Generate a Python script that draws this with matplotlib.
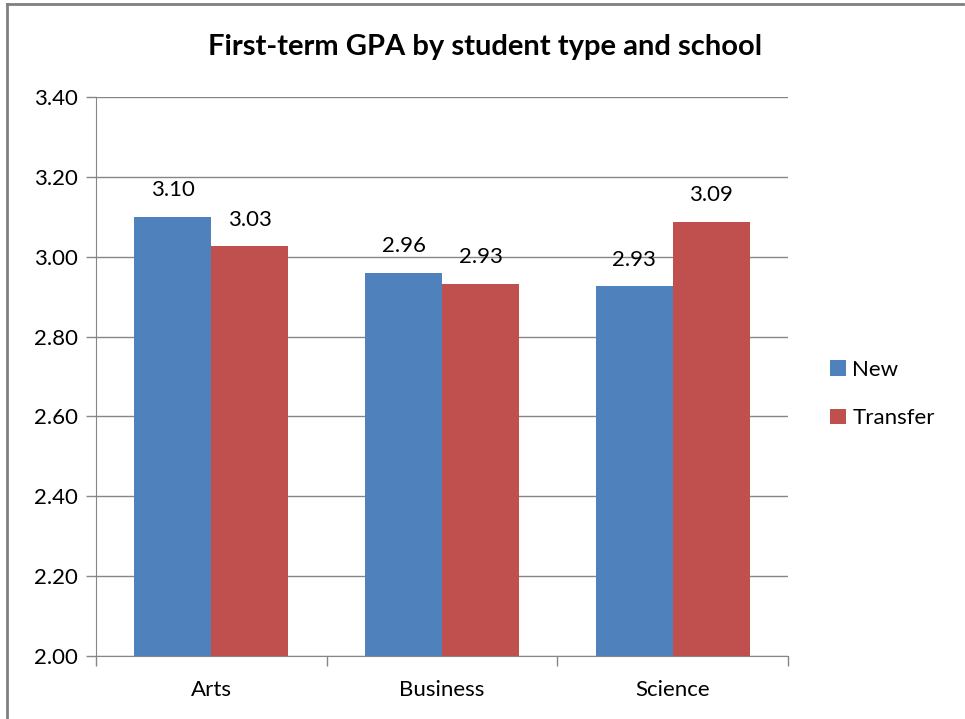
import numpy as np
import matplotlib.pyplot as plt
from matplotlib.lines import Line2D

plt.rcParams['font.family'] = ['Lato', 'DejaVu Sans']

schools = ['Arts', 'Business', 'Science']
new_gpa = [3.10, 2.96, 2.926]
transfer_gpa = [3.026, 2.932, 3.087]
series_names = ['New', 'Transfer']

blue = '#4f81bd'
red = '#c0504d'
grid = '#868686'

fig = plt.figure(figsize=(9.65, 7.19), dpi=100)
ax = fig.add_axes([96 / 965, 1 - 656 / 719, (788 - 96) / 965, (656 - 97) / 719])

x = np.arange(len(schools))
w = 1 / 3
b1 = ax.bar(x - w / 2, np.array(new_gpa) - 2, w, bottom=2, color=blue, label=series_names[0])
b2 = ax.bar(x + w / 2, np.array(transfer_gpa) - 2, w, bottom=2, color=red, label=series_names[1])

for bars, vals in ((b1, new_gpa), (b2, transfer_gpa)):
    for r, v in zip(bars, vals):
        ax.annotate('{:.2f}'.format(v), (r.get_x() + r.get_width() / 2, v),
                    xytext=(0, 12), textcoords='offset points',
                    ha='center', va='bottom', fontsize=16)

ax.set_ylim(2.0, 3.4)
ax.set_xlim(-0.5, 2.5)
ticks = np.arange(2.0, 3.41, 0.2)
ax.set_yticks(ticks)
ax.set_yticklabels(['{:.2f}'.format(t) for t in ticks], fontsize=16)
ax.yaxis.grid(True, color=grid, linewidth=1)
ax.set_axisbelow(True)

ax.set_xticks(x)
ax.set_xticklabels(schools, fontsize=16)
ax.tick_params(axis='x', length=0, pad=17)
ax.set_xticks([-0.5, 0.5, 1.5, 2.5], minor=True)
ax.tick_params(axis='x', which='minor', length=7, color=grid, width=1, direction='out')
ax.tick_params(axis='y', length=7, color=grid, width=1, pad=6)

for s in ['top', 'right']:
    ax.spines[s].set_visible(False)
ax.spines['left'].set_color(grid)
ax.spines['bottom'].set_color(grid)

fig.text(485 / 965, 1 - 47 / 719, 'First-term GPA by student type and school',
         ha='center', va='center', fontsize=21, fontweight='bold')

fig.legend(loc='center left', bbox_to_anchor=(810 / 965, 1 - 394 / 719), frameon=False,
           fontsize=16, handlelength=0.7, handleheight=0.7, handletextpad=0.3,
           labelspacing=1.3)

# outer chart frame: only top and left edges show
fig.add_artist(Line2D([7 / 965, 7 / 965], [0, 1 - 4 / 719], transform=fig.transFigure,
                      color='#808080', linewidth=2))
fig.add_artist(Line2D([7 / 965, 963 / 965], [1 - 4 / 719, 1 - 4 / 719], transform=fig.transFigure,
                      color='#808080', linewidth=2))

fig.savefig('out.png', dpi=100)
